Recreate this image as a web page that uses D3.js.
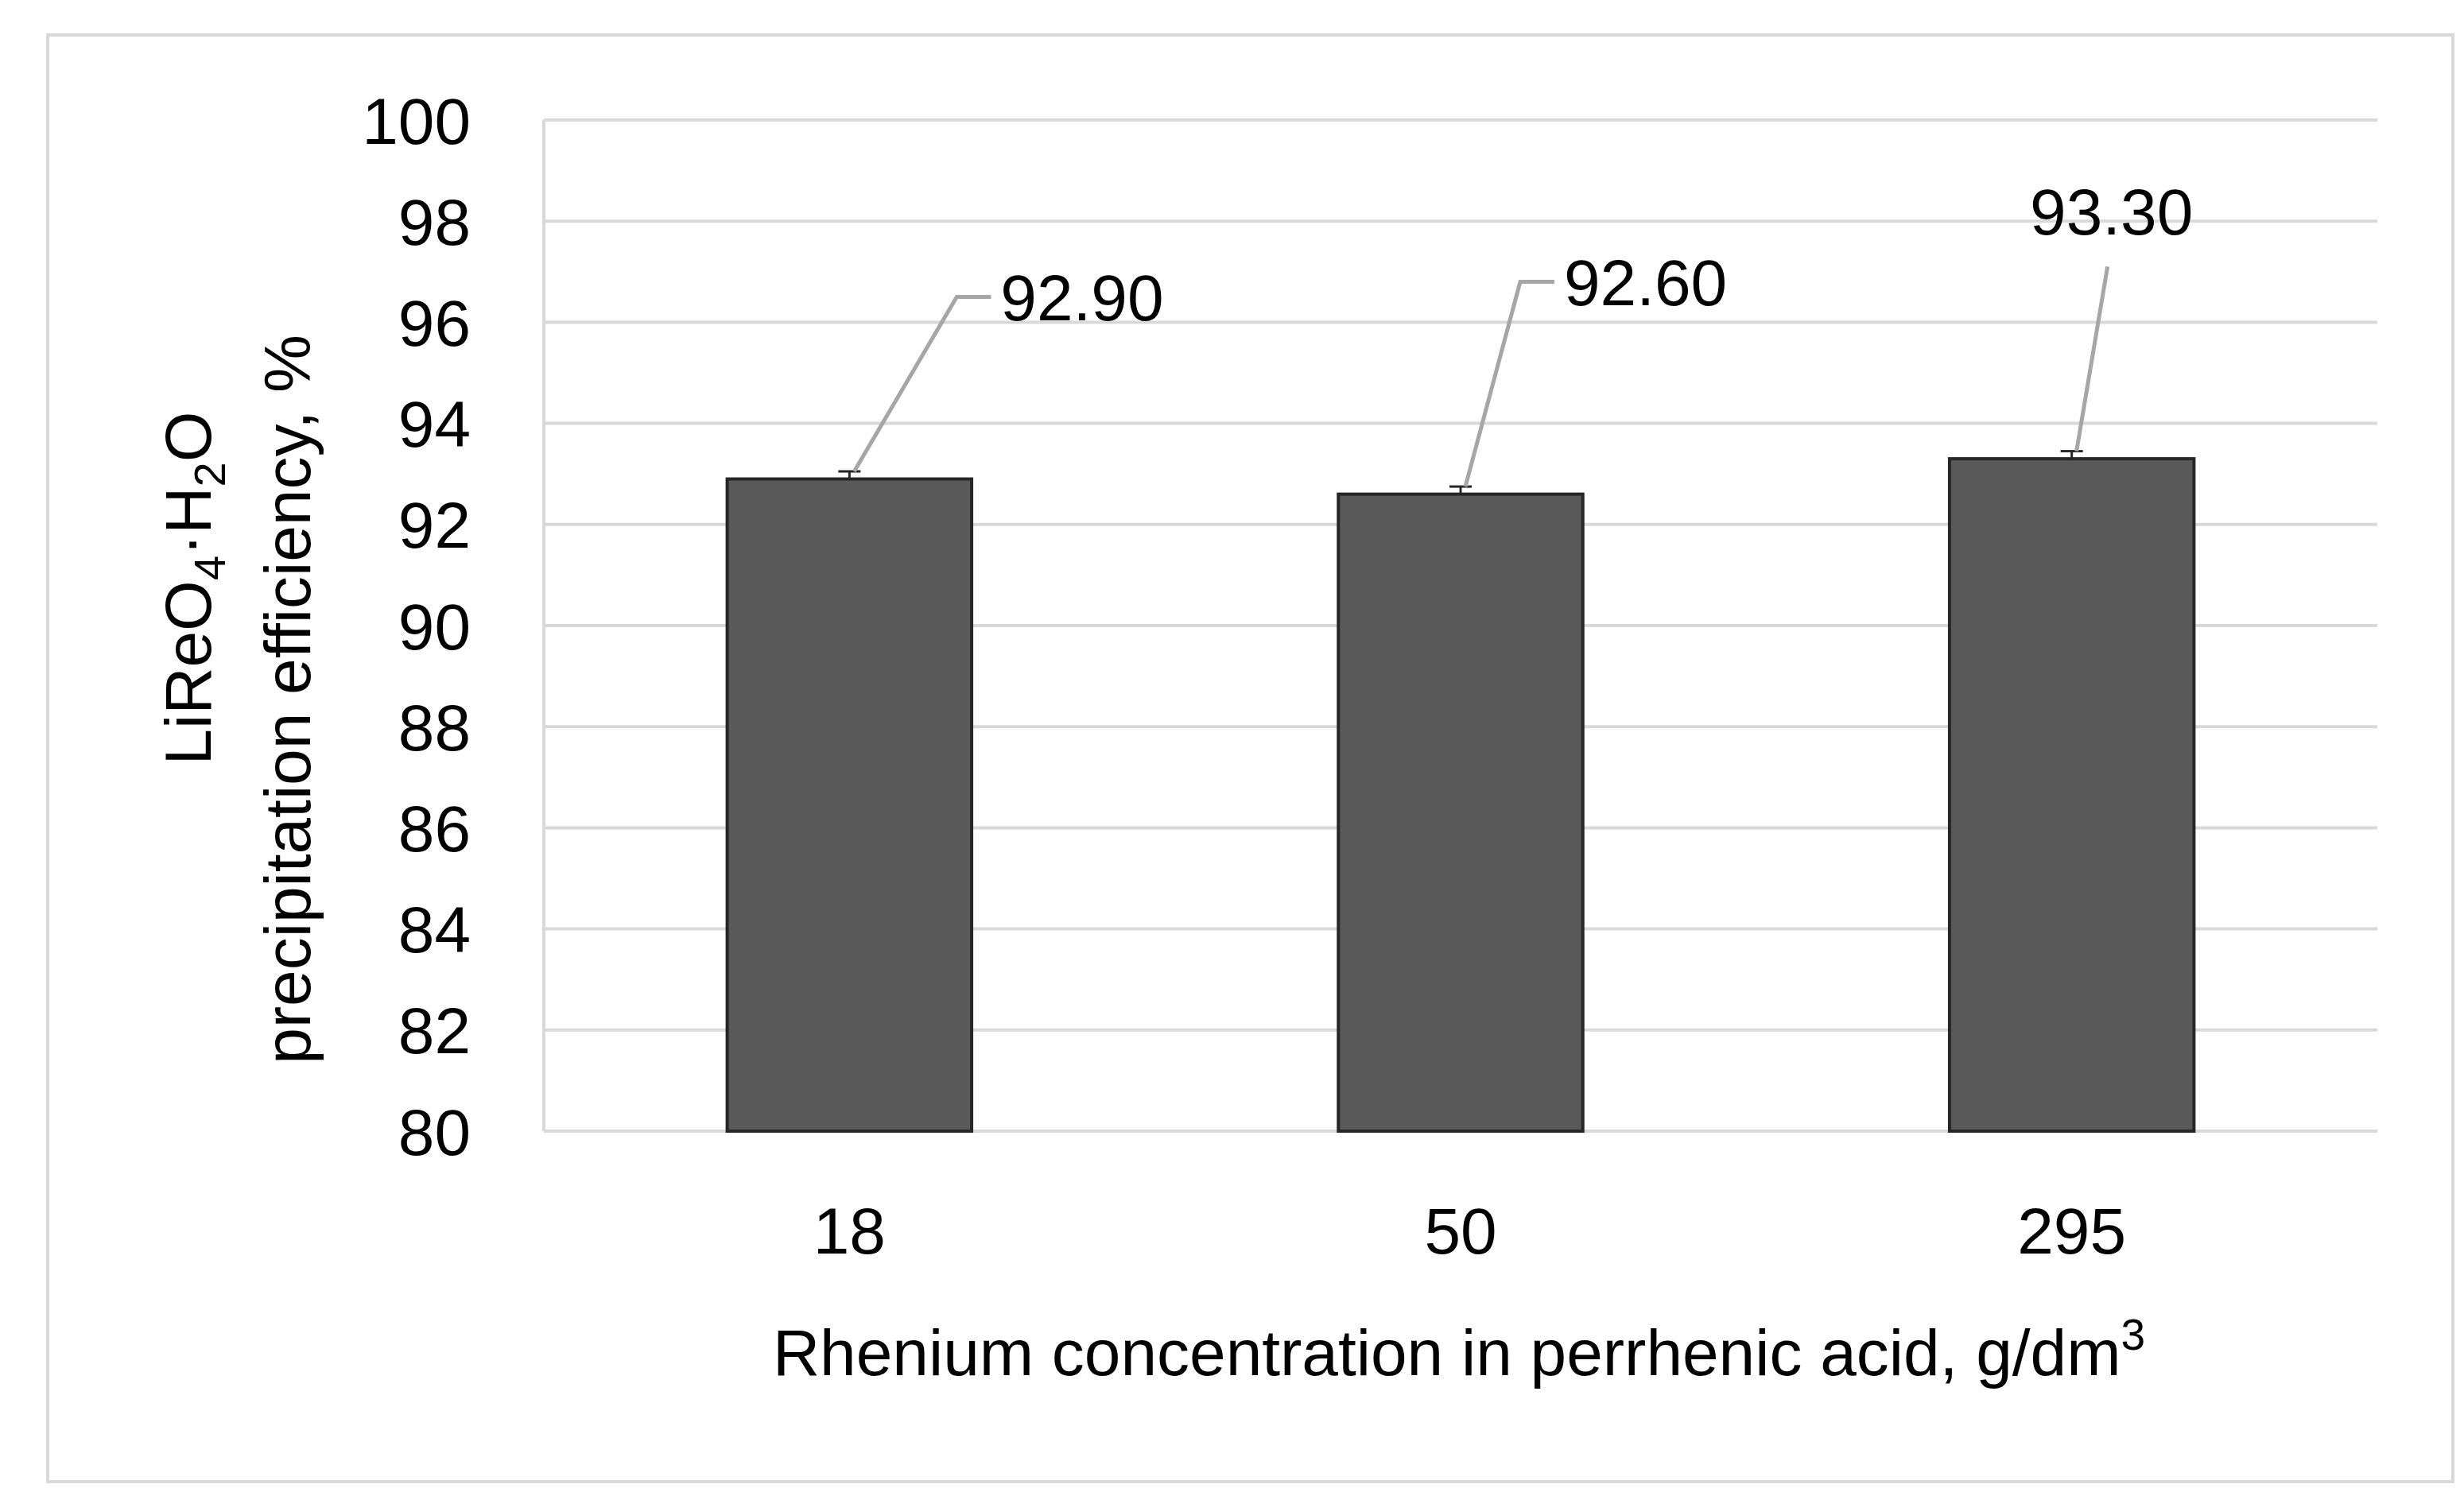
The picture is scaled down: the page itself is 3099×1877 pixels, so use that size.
<!DOCTYPE html>
<html>
<head>
<meta charset="utf-8">
<script src="https://cdn.jsdelivr.net/npm/d3@7"></script>
<style>body{margin:0;background:#fff}</style>
</head>
<body>
<script>
var categories = ["18", "50", "295"];
var values = [92.90, 92.60, 93.30];
var errors = [0.15, 0.15, 0.15];
var yTicks = [80, 82, 84, 86, 88, 90, 92, 94, 96, 98, 100];
// label anchors: [text x offset from bar centre, label value]
var labelPos = [[190, 96.5], [130, 96.8], [50, 98.2]];

var W = 3099, H = 1877;
var svg = d3.select("body").append("svg").attr("width", W).attr("height", H)
  .style("font-family", "'Liberation Sans', Arial, sans-serif");

svg.append("rect").attr("x", 60).attr("y", 44).attr("width", 3025).attr("height", 1820)
  .attr("fill", "#fff").attr("stroke", "#d9d9d9").attr("stroke-width", 4);

var x = d3.scaleBand().domain(categories).range([684, 2990]).paddingInner(0.6).paddingOuter(0.3);
var y = d3.scaleLinear().domain([80, 100]).range([1423, 151]);

svg.selectAll(".grid").data(yTicks).enter().append("line")
  .attr("x1", 684).attr("x2", 2990).attr("y1", function(d){return y(d);}).attr("y2", function(d){return y(d);})
  .attr("stroke", "#d9d9d9").attr("stroke-width", 4);
svg.append("line").attr("x1", 684).attr("x2", 684).attr("y1", 151).attr("y2", 1423)
  .attr("stroke", "#d9d9d9").attr("stroke-width", 4);

svg.selectAll(".ytick").data(yTicks).enter().append("text")
  .attr("x", 592).attr("y", function(d){return y(d);}).attr("dy", "0.36em")
  .attr("text-anchor", "end").attr("font-size", 82).attr("fill", "#000").text(function(d){return d;});

svg.selectAll(".bar").data(values).enter().append("rect")
  .attr("x", function(d, i){return x(categories[i]);}).attr("width", x.bandwidth())
  .attr("y", function(d){return y(d);}).attr("height", function(d){return y(80) - y(d);})
  .attr("fill", "#595959").attr("stroke", "#262626").attr("stroke-width", 4);

values.forEach(function(v, i){
  var cx = x(categories[i]) + x.bandwidth() / 2;
  var yt = y(v + errors[i]);
  svg.append("line").attr("x1", cx).attr("x2", cx).attr("y1", y(v)).attr("y2", yt).attr("stroke", "#262626").attr("stroke-width", 3);
  svg.append("line").attr("x1", cx - 14).attr("x2", cx + 14).attr("y1", yt).attr("y2", yt).attr("stroke", "#262626").attr("stroke-width", 3);
  var lx = cx + labelPos[i][0], ly = y(labelPos[i][1]);
  if (i < 2) {
    svg.append("polyline").attr("points", [[cx + 6, yt], [lx - 55, ly], [lx - 12, ly]].join(" "))
      .attr("fill", "none").attr("stroke", "#a6a6a6").attr("stroke-width", 5);
    svg.append("text").attr("x", lx).attr("y", ly).attr("dy", "0.36em").attr("font-size", 82).text(v.toFixed(2));
  } else {
    svg.append("line").attr("x1", cx + 6).attr("y1", yt).attr("x2", lx - 5).attr("y2", y(labelPos[i][1] - 1.1))
      .attr("stroke", "#a6a6a6").attr("stroke-width", 5);
    svg.append("text").attr("x", lx).attr("y", ly).attr("dy", "0.36em").attr("text-anchor", "middle").attr("font-size", 82).text(v.toFixed(2));
  }
});

svg.selectAll(".xtick").data(categories).enter().append("text")
  .attr("x", function(d){return x(d) + x.bandwidth() / 2;}).attr("y", 1577)
  .attr("text-anchor", "middle").attr("font-size", 82).text(function(d){return d;});

var xt = svg.append("text").attr("x", 1835).attr("y", 1730).attr("text-anchor", "middle").attr("font-size", 82);
xt.append("tspan").text("Rhenium concentration in perrhenic acid, g/dm");
xt.append("tspan").attr("dy", -32).attr("font-size", 55).text("3");

var yt1 = svg.append("text").attr("transform", "translate(265,740) rotate(-90)").attr("text-anchor", "middle").attr("font-size", 82);
yt1.append("tspan").text("LiReO");
yt1.append("tspan").attr("dy", 18).attr("font-size", 56).text("4");
yt1.append("tspan").attr("dy", -18).text("·H");
yt1.append("tspan").attr("dy", 18).attr("font-size", 56).text("2");
yt1.append("tspan").attr("dy", -18).text("O");
svg.append("text").attr("transform", "translate(390,880) rotate(-90)").attr("text-anchor", "middle").attr("font-size", 82)
  .text("precipitation efficiency, %");
</script>
</body>
</html>
